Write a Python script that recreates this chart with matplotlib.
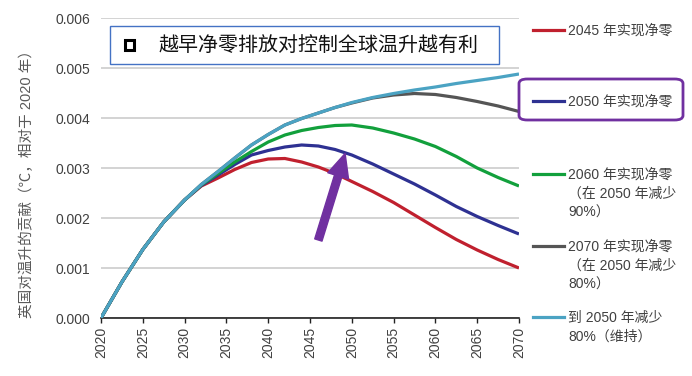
import matplotlib
matplotlib.use("Agg")
from matplotlib import pyplot as plt
from matplotlib import patches
from matplotlib.ticker import FormatStrFormatter

plt.rcParams['font.family'] = ['Liberation Sans', 'Noto Sans CJK SC']

# years (denser where the curves bend)
years = [2020, 2022.5, 2025, 2027.5, 2030, 2032, 2034, 2036, 2038, 2040, 2042, 2044, 2046, 2048,
         2050, 2052.5, 2055, 2057.5, 2060, 2062.5, 2065, 2067.5, 2070]

net_zero_2045 = [0, 0.00072, 0.00137, 0.00192, 0.00236, 0.00264, 0.00280, 0.00297, 0.00311, 0.00318,
                 0.00319, 0.00312, 0.00302, 0.00289, 0.00273, 0.00253, 0.00231, 0.00206, 0.00181,
                 0.00157, 0.00136, 0.00117, 0.00100]
net_zero_2050 = [0, 0.00072, 0.00137, 0.00192, 0.00236, 0.00265, 0.00286, 0.00307, 0.00326, 0.00335,
                 0.00342, 0.00346, 0.00344, 0.00337, 0.00326, 0.00308, 0.00288, 0.00268, 0.00246,
                 0.00223, 0.00203, 0.00185, 0.00168]
net_zero_2060 = [0, 0.00072, 0.00137, 0.00192, 0.00236, 0.00266, 0.00289, 0.00312, 0.00333, 0.00352,
                 0.00366, 0.00375, 0.00381, 0.00385, 0.00386, 0.00380, 0.00370, 0.00358, 0.00343,
                 0.00323, 0.00300, 0.00281, 0.00264]
net_zero_2070 = [0, 0.00072, 0.00137, 0.00192, 0.00236, 0.00267, 0.00293, 0.00320, 0.00346, 0.00367,
                 0.00386, 0.00399, 0.00410, 0.00421, 0.00430, 0.00440, 0.00446, 0.00449, 0.00447,
                 0.00441, 0.00433, 0.00424, 0.00413]
cut_80_2050 = [0, 0.00072, 0.00137, 0.00192, 0.00236, 0.00267, 0.00293, 0.00320, 0.00346, 0.00367,
               0.00386, 0.00399, 0.00410, 0.00421, 0.00431, 0.00441, 0.00449, 0.00456, 0.00462,
               0.00469, 0.00475, 0.00481, 0.00488]

series = [
    (net_zero_2045, '#C0202E', ['2045 年实现净零']),
    (net_zero_2050, '#2E3192', ['2050 年实现净零']),
    (net_zero_2060, '#12A03C', ['2060 年实现净零', '（在 2050 年减少', '90%）']),
    (net_zero_2070, '#555555', ['2070 年实现净零', '（在 2050 年减少', '80%）']),
    (cut_80_2050, '#4BA3C3', ['到 2050 年减少', '80%（维持）']),
]
legend_rows_px = [30, 101, 174, 246, 317]

W, H = 692, 376
fig = plt.figure(figsize=(W / 100, H / 100), dpi=100)
ax = fig.add_axes([101 / W, 1 - 318 / H, 418 / W, 300 / H])

for values, color, _ in series:
    ax.plot(years, values, color=color, lw=2.3, solid_capstyle='butt', solid_joinstyle='round', zorder=3)

ax.set_xlim(2020, 2070)
ax.set_ylim(0, 0.006)
ax.set_xticks(range(2020, 2071, 5))
ax.set_yticks([0, 0.001, 0.002, 0.003, 0.004, 0.005, 0.006])
ax.yaxis.set_major_formatter(FormatStrFormatter('%.3f'))
ax.grid(axis='y', color='#C8C8C8', lw=1.1)
ax.set_axisbelow(True)
for side in ['left', 'right', 'top']:
    ax.spines[side].set_visible(False)
ax.spines['bottom'].set_color('#222222')
ax.spines['bottom'].set_linewidth(1.2)
ax.tick_params(axis='y', length=0, pad=8, labelsize=10, labelcolor='#404040')
ax.tick_params(axis='x', length=3.6, width=1, pad=3, labelsize=10, labelcolor='#404040',
               labelrotation=90, color='#222222')

# arrow pointing at the 2050 curve
ax.annotate('', xy=(2049.2, 0.00329), xytext=(2046.0, 0.00156),
            arrowprops=dict(arrowstyle='simple,head_length=1.3,head_width=1.2,tail_width=0.42',
                            color='#7030A0', mutation_scale=13, shrinkA=0, shrinkB=0))

# title box
fig.patches.append(patches.Rectangle((109.5 / W, 1 - 63.5 / H), 389.5 / W, 37.5 / H,
                                     transform=fig.transFigure, fill=False,
                                     edgecolor='#4472C4', lw=1))
fig.patches.append(patches.Rectangle((124.5 / W, 1 - 49.5 / H), 9.5 / W, 9.5 / H,
                                     transform=fig.transFigure, facecolor='white',
                                     edgecolor='black', lw=2.2))
fig.text(158 / W, 1 - 45.5 / H, '越早净零排放对控制全球温升越有利', fontsize=14.4,
         family=['Noto Sans CJK SC'], color='#111111', ha='left', va='center')

# y label
fig.text(27 / W, 1 - 180 / H, '英国对温升的贡献（℃，相对于 2020 年）', rotation=90,
         fontsize=10.5, color='#595959', ha='center', va='center')

# legend on the right
for (values, color, lines), row in zip(series, legend_rows_px):
    fig.add_artist(plt.Line2D([533 / W, 564 / W], [1 - row / H, 1 - row / H],
                              color=color, lw=2.3, transform=fig.transFigure))
    for i, line in enumerate(lines):
        fig.text(568 / W, 1 - (row + 1 + i * 19) / H, line, fontsize=10,
                 color='#404040', ha='left', va='center')

fig.patches.append(patches.FancyBboxPatch((519 / W, 1 - 120 / H), 164 / W, 41 / H,
                                          boxstyle='round,pad=0,rounding_size=0.012',
                                          transform=fig.transFigure, fill=False,
                                          edgecolor='#7030A0', lw=2))

plt.savefig('out.png', dpi=100)
